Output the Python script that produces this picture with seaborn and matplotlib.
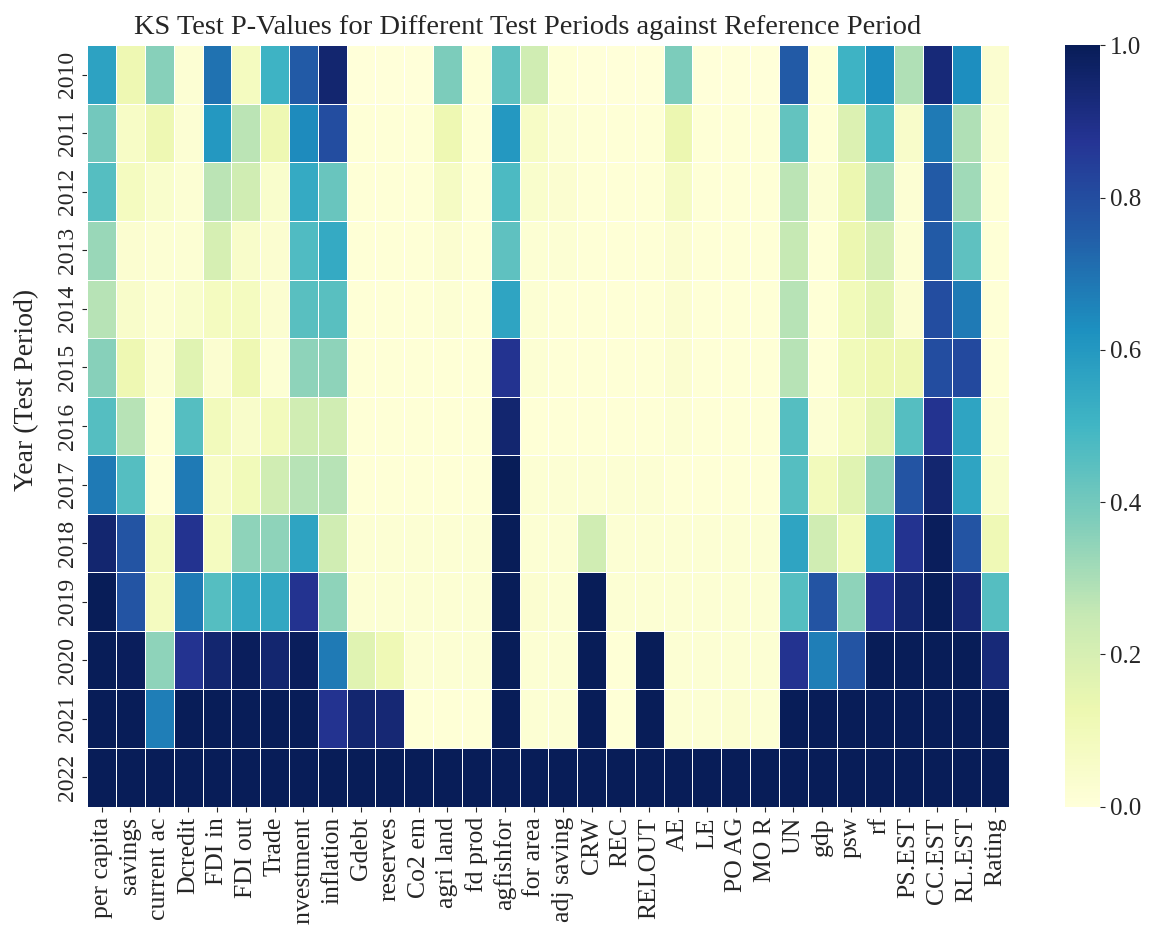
import numpy as np
import pandas as pd
import matplotlib
matplotlib.use("Agg")
import matplotlib.pyplot as plt
import seaborn as sns

years = [2010, 2011, 2012, 2013, 2014, 2015, 2016, 2017, 2018, 2019, 2020, 2021, 2022]

indicators = ["per capita", "savings", "current ac", "Dcredit", "FDI in", "FDI out",
              "Trade", "investment", "inflation", "Gdebt", "reserves", "Co2 em",
              "agri land", "fd prod", "agfishfor", "for area", "adj saving", "CRW",
              "REC", "RELOUT", "AE", "LE", "PO AG", "MO R", "UN", "gdp", "psw", "rf",
              "PS.EST", "CC.EST", "RL.EST", "Rating"]

# KS test p-values, one list per test year (columns follow `indicators`)
p_2010 = [0.57, 0.12, 0.36, 0.02, 0.70, 0.08, 0.51, 0.76, 0.95, 0.00, 0.00, 0.00,
          0.38, 0.01, 0.44, 0.22, 0.01, 0.00, 0.00, 0.00, 0.38, 0.00, 0.00, 0.00,
          0.76, 0.01, 0.51, 0.63, 0.29, 0.93, 0.63, 0.03]
p_2011 = [0.40, 0.06, 0.12, 0.02, 0.60, 0.27, 0.12, 0.64, 0.80, 0.01, 0.01, 0.01,
          0.12, 0.01, 0.60, 0.06, 0.02, 0.01, 0.01, 0.01, 0.13, 0.01, 0.01, 0.01,
          0.43, 0.01, 0.18, 0.48, 0.05, 0.68, 0.29, 0.02]
p_2012 = [0.46, 0.08, 0.04, 0.02, 0.27, 0.22, 0.04, 0.54, 0.42, 0.01, 0.01, 0.01,
          0.07, 0.01, 0.48, 0.04, 0.03, 0.01, 0.01, 0.01, 0.07, 0.01, 0.01, 0.01,
          0.27, 0.02, 0.13, 0.32, 0.02, 0.76, 0.32, 0.01]
p_2013 = [0.33, 0.03, 0.02, 0.02, 0.20, 0.05, 0.03, 0.47, 0.54, 0.01, 0.01, 0.01,
          0.03, 0.01, 0.44, 0.02, 0.02, 0.01, 0.01, 0.01, 0.03, 0.01, 0.01, 0.01,
          0.25, 0.01, 0.13, 0.21, 0.02, 0.76, 0.44, 0.01]
p_2014 = [0.28, 0.05, 0.02, 0.04, 0.08, 0.08, 0.03, 0.45, 0.45, 0.01, 0.01, 0.01,
          0.02, 0.01, 0.56, 0.02, 0.01, 0.01, 0.01, 0.01, 0.03, 0.01, 0.01, 0.01,
          0.28, 0.01, 0.10, 0.16, 0.03, 0.80, 0.68, 0.01]
p_2015 = [0.36, 0.12, 0.02, 0.17, 0.03, 0.12, 0.02, 0.35, 0.35, 0.01, 0.01, 0.01,
          0.01, 0.01, 0.88, 0.02, 0.01, 0.01, 0.01, 0.01, 0.03, 0.01, 0.01, 0.01,
          0.28, 0.01, 0.10, 0.12, 0.12, 0.80, 0.81, 0.01]
p_2016 = [0.46, 0.28, 0.01, 0.46, 0.09, 0.05, 0.09, 0.22, 0.22, 0.01, 0.01, 0.01,
          0.01, 0.01, 0.95, 0.01, 0.01, 0.01, 0.01, 0.01, 0.02, 0.01, 0.01, 0.01,
          0.46, 0.02, 0.08, 0.16, 0.46, 0.88, 0.56, 0.02]
p_2017 = [0.68, 0.46, 0.01, 0.68, 0.06, 0.10, 0.22, 0.28, 0.28, 0.01, 0.01, 0.01,
          0.01, 0.01, 1.00, 0.02, 0.02, 0.02, 0.02, 0.02, 0.01, 0.01, 0.01, 0.01,
          0.46, 0.09, 0.17, 0.35, 0.78, 0.95, 0.56, 0.04]
p_2018 = [0.95, 0.78, 0.08, 0.88, 0.08, 0.35, 0.35, 0.56, 0.22, 0.02, 0.02, 0.02,
          0.02, 0.02, 1.00, 0.02, 0.02, 0.22, 0.02, 0.02, 0.02, 0.02, 0.02, 0.02,
          0.56, 0.22, 0.10, 0.56, 0.88, 0.99, 0.78, 0.11]
p_2019 = [1.00, 0.78, 0.08, 0.68, 0.46, 0.55, 0.55, 0.88, 0.35, 0.02, 0.02, 0.02,
          0.02, 0.02, 1.00, 0.03, 0.02, 1.00, 0.02, 0.02, 0.02, 0.02, 0.02, 0.02,
          0.46, 0.78, 0.35, 0.88, 0.95, 1.00, 0.94, 0.46]
p_2020 = [1.00, 0.99, 0.35, 0.88, 0.95, 0.99, 0.95, 0.99, 0.68, 0.17, 0.11, 0.02,
          0.02, 0.02, 1.00, 0.02, 0.02, 1.00, 0.01, 1.00, 0.02, 0.02, 0.02, 0.02,
          0.88, 0.67, 0.78, 1.00, 1.00, 1.00, 1.00, 0.93]
p_2021 = [1.00, 1.00, 0.67, 1.00, 1.00, 1.00, 1.00, 1.00, 0.88, 0.95, 0.94, 0.01,
          0.01, 0.01, 1.00, 0.02, 0.02, 1.00, 0.01, 1.00, 0.02, 0.02, 0.03, 0.02,
          1.00, 1.00, 1.00, 1.00, 1.00, 1.00, 1.00, 1.00]
p_2022 = [1.00] * 32

pvalues = pd.DataFrame(
    [p_2010, p_2011, p_2012, p_2013, p_2014, p_2015, p_2016,
     p_2017, p_2018, p_2019, p_2020, p_2021, p_2022],
    index=years, columns=indicators,
)

sns.set_style("ticks")
plt.rcParams["font.family"] = ["Liberation Serif", "DejaVu Serif"]

fig = plt.figure(figsize=(11.63, 9.25), dpi=100)
ax = fig.add_axes([0.075, 0.128, 0.793, 0.823])
cax = fig.add_axes([0.916, 0.128, 0.030, 0.823])

sns.heatmap(pvalues, ax=ax, cbar_ax=cax, cmap="YlGnBu", vmin=0, vmax=1,
            linewidths=0.6, linecolor="white")

ax.set_title("KS Test P-Values for Different Test Periods against Reference Period",
             fontsize=20.5, pad=8, x=0.477)
ax.set_ylabel("Year (Test Period)", fontsize=20)
ax.yaxis.set_label_coords(-0.052, 0.547)
ax.set_xlabel("")
ax.tick_params(axis="x", labelsize=18.5, rotation=90, pad=4)
ax.tick_params(axis="y", labelsize=17, rotation=90)
for lbl in ax.get_yticklabels():
    lbl.set_va("center")
cax.tick_params(labelsize=18)
cax.set_yticks([0.0, 0.2, 0.4, 0.6, 0.8, 1.0])

fig.savefig("out.png", dpi=100)
